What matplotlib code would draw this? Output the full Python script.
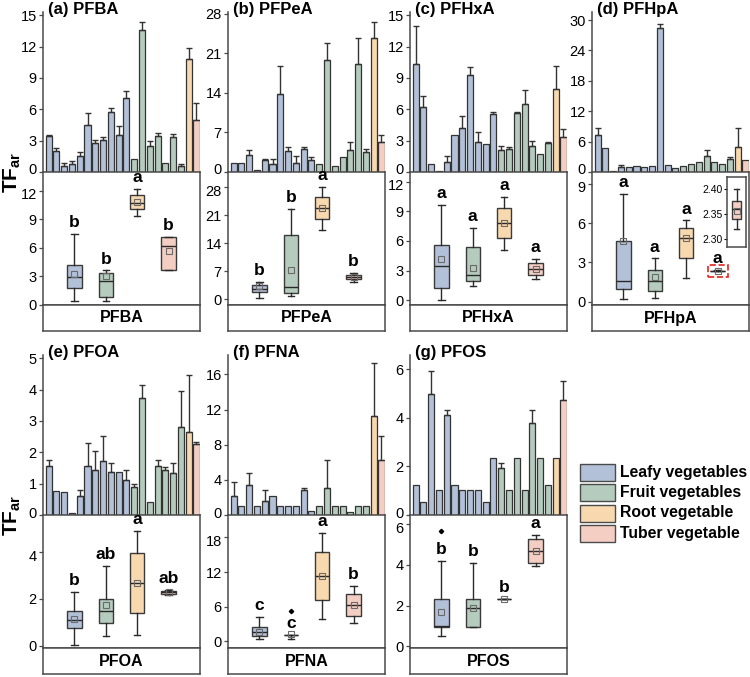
import matplotlib
matplotlib.use("Agg")
import matplotlib.pyplot as plt
import matplotlib.transforms as mtransforms
from matplotlib.patches import Rectangle

# ---- data -------------------------------------------------------------
PANELS = ["PFBA", "PFPeA", "PFHxA", "PFHpA", "PFOA", "PFNA", "PFOS"]
TAGS = ["(a)", "(b)", "(c)", "(d)", "(e)", "(f)", "(g)"]
GROUPS = ["Leafy vegetables", "Fruit vegetables", "Root vegetable", "Tuber vegetable"]
COLORS = ["#b3c1d8", "#b4cbbd", "#f8d8ae", "#f4cec3"]
# group of each of the 20 bars: 11 leafy, 7 fruit, 1 root, 1 tuber
BAR_GROUP = [0] * 11 + [1] * 7 + [2] + [3]

# bar heights (mean) and top of error bar (mean + sd)
BAR_VALS = [
    [3.4, 2.0, 0.57, 0.75, 1.5, 4.5, 2.8, 3.1, 5.75, 3.5, 7.1, 1.24, 13.56, 2.5, 3.4, 0.83, 3.3, 0.62, 10.8, 5.0],
    [1.66, 1.66, 3.1, 0.3, 2.07, 1.48, 13.9, 3.67, 1.6, 4.1, 2.2, 1.5, 19.9, 1.07, 2.66, 3.85, 19.2, 3.55, 23.8, 5.4],
    [10.3, 6.2, 0.75, 0.1, 0.95, 3.5, 4.2, 9.25, 2.9, 2.7, 5.5, 2.1, 2.2, 5.6, 6.5, 2.5, 1.7, 2.8, 7.9, 3.3],
    [7.35, 4.75, 0.2, 0.9, 1.0, 1.1, 1.0, 1.2, 28.5, 1.3, 0.8, 1.1, 1.5, 2.0, 3.2, 2.0, 1.5, 2.6, 5.0, 2.3],
    [1.57, 0.77, 0.74, 0.05, 0.61, 1.55, 1.42, 1.72, 1.37, 1.37, 1.13, 0.9, 3.72, 0.43, 1.55, 1.42, 1.35, 2.8, 2.65, 2.27],
    [2.2, 1.0, 3.4, 1.0, 1.6, 2.2, 1.0, 1.0, 1.0, 2.8, 0.4, 1.0, 3.1, 1.0, 1.0, 0.3, 1.0, 1.0, 11.3, 6.3],
    [1.24, 0.52, 4.97, 1.03, 4.11, 1.24, 1.03, 1.03, 1.03, 0.52, 2.36, 1.94, 1.03, 2.36, 1.03, 3.77, 2.36, 1.24, 2.36, 4.72],
]
BAR_TOPS = [
    [3.57, 2.3, 0.9, 1.05, 1.9, 5.65, 3.03, 3.35, 6.13, 4.4, 7.72, 1.24, 14.3, 2.94, 3.77, 0.83, 3.64, 0.75, 11.9, 6.6],
    [1.66, 1.66, 3.96, 0.3, 2.25, 2.37, 18.8, 4.44, 2.84, 4.44, 2.66, 1.5, 22.8, 1.07, 2.66, 5.4, 23.7, 4.14, 26.6, 6.5],
    [14.0, 7.3, 0.75, 0.1, 1.5, 3.5, 5.4, 10.0, 3.8, 2.7, 5.7, 2.5, 2.4, 5.7, 7.8, 3.0, 1.7, 2.9, 10.1, 4.1],
    [8.75, 4.75, 0.2, 1.3, 1.0, 1.1, 1.0, 1.2, 29.3, 1.3, 0.8, 1.1, 1.5, 2.0, 4.3, 2.0, 1.5, 3.0, 8.7, 2.3],
    [1.76, 0.77, 0.74, 0.05, 0.79, 2.28, 2.03, 2.53, 1.65, 1.37, 1.42, 0.98, 4.13, 0.43, 1.76, 1.53, 1.67, 3.95, 4.47, 2.33],
    [3.7, 1.0, 4.8, 1.0, 2.8, 2.2, 1.0, 1.0, 1.0, 3.1, 0.4, 1.0, 6.3, 1.0, 1.0, 0.3, 1.0, 1.0, 17.3, 9.0],
    [1.24, 0.52, 5.93, 1.03, 4.32, 1.24, 1.03, 1.03, 1.03, 0.52, 2.36, 2.15, 1.03, 2.36, 1.03, 4.32, 2.36, 1.24, 2.36, 5.52],
]
BAR_YMAX = [15.3, 28.35, 15.3, 31.6, 5.1, 18.2, 6.58]
BAR_TICKS = [[0, 3, 6, 9, 12, 15], [0, 7, 14, 21, 28], [0, 3, 6, 9, 12, 15],
             [0, 6, 12, 18, 24, 30], [0, 1, 2, 3, 4, 5], [0, 4, 8, 12, 16], [0, 2, 4, 6]]

# box plot statistics, order: leafy, fruit, root, tuber
BOX_WHISLO = [[0.4, 0.4, 9.4, 3.6], [0.25, 0.8, 17.3, 4.3], [0.0, 1.45, 5.1, 2.1], [0.2, 0.3, 1.8, 2.33],
              [0.03, 0.43, 0.45, 2.18], [0.3, 0.45, 3.9, 3.1], [0.49, 0.94, 2.33, 3.95]]
BOX_Q1 = [[1.7, 0.8, 10.1, 3.6], [1.7, 1.5, 20.0, 4.9], [1.2, 1.9, 6.3, 2.5], [0.95, 0.8, 3.3, 2.34],
          [0.77, 0.98, 1.4, 2.22], [0.9, 1.0, 7.1, 4.3], [0.96, 0.94, 2.33, 4.1]]
BOX_MED = [[2.9, 2.5, 10.75, 6.2], [2.4, 2.9, 22.75, 5.4], [3.5, 2.5, 7.8, 3.15], [1.6, 1.6, 4.9, 2.36],
           [1.1, 1.48, 2.68, 2.3], [1.6, 1.0, 11.3, 6.3], [0.98, 1.9, 2.33, 4.68]]
BOX_Q3 = [[4.2, 3.3, 11.6, 7.1], [3.4, 16.1, 25.5, 6.0], [5.6, 5.4, 9.35, 3.8], [4.6, 2.4, 5.6, 2.38],
          [1.48, 1.99, 3.97, 2.34], [2.4, 1.0, 15.5, 8.2], [2.33, 2.33, 2.33, 5.28]]
BOX_WHISHI = [[7.5, 3.6, 12.2, 7.1], [4.25, 22.5, 28.0, 6.6], [9.7, 7.35, 10.5, 4.15], [8.2, 3.3, 6.2, 2.39],
              [2.3, 3.43, 4.92, 2.4], [4.2, 1.0, 18.7, 9.65], [4.2, 4.1, 2.33, 5.45]]
BOX_MEAN = [[3.2, 3.05, 10.8, 5.7], [3.2, 7.3, 22.8, 5.5], [4.15, 3.3, 7.8, 3.15], [4.6, 1.9, 4.9, 2.355],
            [1.16, 1.76, 2.68, 2.3], [1.6, 1.26, 11.3, 6.3], [1.67, 1.9, 2.33, 4.68]]
BOX_FLIERS = [[[], [], [], []], [[], [], [], []], [[], [], [], []], [[], [], [], []],
              [[], [], [], []], [[], [5.3], [], []], [[5.64], [], [], []]]
LETTERS = [["b", "b", "a", "b"], ["b", "b", "a", "b"], ["a", "a", "a", "a"], ["a", "a", "a", "a"],
           ["b", "ab", "a", "ab"], ["c", "c", "a", "b"], ["b", "b", "b", "a"]]
BOX_YLIM = [(-0.05, 14.0), (-1.5, 31.8), (-0.5, 13.0), (-0.25, 9.9),
            (-0.1, 5.6), (-1.2, 21.9), (-0.08, 6.45)]
BOX_TICKS = [[0, 3, 6, 9, 12], [0, 7, 14, 21, 28], [0, 3, 6, 9, 12], [0, 3, 6, 9],
             [0, 2, 4], [0, 6, 12, 18], [0, 2, 4, 6]]

# zoomed PFHpA tuber box (inset)
INSET_STAT = dict(whislo=2.32, q1=2.34, med=2.36, q3=2.375, whishi=2.40, mean=2.355)
INSET_TICKS = [2.30, 2.35, 2.40]

# ---- layout (pixels) ----------------------------------------------------
W, H = 750, 677
PANEL_LEFT = [43, 228, 410, 592, 43, 228, 410]
PANEL_W = 157
ROW_TOP = [12, 12, 12, 12, 355, 355, 355]
BAR_H, BOX_H, STRIP_H = 160, 133, 26
EDGE = "#4a4a4a"

plt.rcParams.update({
    "font.family": ["Liberation Sans", "DejaVu Sans"],
    "mathtext.fontset": "custom",
    "mathtext.rm": "Liberation Sans",
    "mathtext.bf": "Liberation Sans:bold",
    "axes.linewidth": 1.1,
    "axes.edgecolor": EDGE,
})

fig = plt.figure(figsize=(W / 100, H / 100), dpi=100)


def px_axes(x0, y0, w, h):
    return fig.add_axes([x0 / W, 1 - (y0 + h) / H, w / W, h / H])


def style_y(ax):
    ax.tick_params(axis="y", direction="out", length=3, width=0.9, color=EDGE,
                   labelsize=10.5, pad=1.5)
    ax.tick_params(axis="x", bottom=False, labelbottom=False)


def nudge(label, dy_px):
    # shift a tick label a few pixels up (+) or down (-)
    off = mtransforms.ScaledTranslation(0, dy_px / 100, fig.dpi_scale_trans)
    label.set_transform(label.get_transform() + off)


box_props = dict(
    widths=0.46, patch_artist=True, showmeans=True, showfliers=True, capwidths=0.2,
    boxprops=dict(edgecolor="#3a3a3a", linewidth=1.0),
    medianprops=dict(color="#2a2a2a", linewidth=1.0),
    whiskerprops=dict(color="#2a2a2a", linewidth=1.0),
    capprops=dict(color="#2a2a2a", linewidth=1.0),
    meanprops=dict(marker="s", markersize=4, markerfacecolor="none",
                   markeredgecolor="#6a6a6a", markeredgewidth=0.8),
    flierprops=dict(marker="D", markersize=2.2, markerfacecolor="k", markeredgecolor="k"),
)

for i, name in enumerate(PANELS):
    x0, top = PANEL_LEFT[i], ROW_TOP[i]

    # --- bars ---
    ax = px_axes(x0, top, PANEL_W, BAR_H)
    xs = list(range(len(BAR_VALS[i])))
    ax.bar(xs, BAR_VALS[i], width=0.78, color=[COLORS[g] for g in BAR_GROUP],
           edgecolor="#333333", linewidth=0.9, zorder=2)
    ex = [x for x in xs if BAR_TOPS[i][x] > BAR_VALS[i][x] + 1e-9]
    ax.errorbar(ex, [BAR_VALS[i][x] for x in ex],
                yerr=[[0] * len(ex), [BAR_TOPS[i][x] - BAR_VALS[i][x] for x in ex]],
                fmt="none", ecolor="#333333", elinewidth=1.0, capsize=2.3, capthick=1.0, zorder=3)
    ax.set_xlim(-0.72, 19.45)
    ax.set_ylim(0, BAR_YMAX[i])
    ax.set_yticks(BAR_TICKS[i])
    for s in ("top", "right", "bottom"):
        ax.spines[s].set_visible(False)
    ax.patch.set_alpha(0)
    style_y(ax)
    nudge(ax.get_yticklabels()[0], 3)

    fig.text((x0 + 5) / W, 1 - (top - 10) / H, f"{TAGS[i]} {name}", fontsize=12,
             fontweight="bold", va="top", ha="left")

    # --- box plots ---
    bx = px_axes(x0, top + BAR_H, PANEL_W, BOX_H)
    stats = []
    for k in range(4):
        stats.append(dict(whislo=BOX_WHISLO[i][k], q1=BOX_Q1[i][k], med=BOX_MED[i][k],
                          q3=BOX_Q3[i][k], whishi=BOX_WHISHI[i][k], mean=BOX_MEAN[i][k],
                          fliers=BOX_FLIERS[i][k]))
    bp = bx.bxp(stats, positions=[1, 2, 3, 4], **box_props)
    for patch, c in zip(bp["boxes"], COLORS):
        patch.set_facecolor(c)
    for k in range(4):
        bx.annotate(LETTERS[i][k], (k + 1, BOX_WHISHI[i][k]), xytext=(0, 5),
                    textcoords="offset points", ha="center", va="baseline",
                    fontsize=12.5, fontweight="bold")
    bx.set_xlim(0, 5)
    bx.set_ylim(*BOX_YLIM[i])
    bx.set_yticks(BOX_TICKS[i])
    style_y(bx)
    nudge(bx.get_yticklabels()[-1], -3)

    if name == "PFHpA":
        bx.add_patch(Rectangle((3.68, 1.9), 0.64, 0.92, fill=False, edgecolor="#e8211d",
                               linestyle="--", linewidth=1.2, zorder=6))
        ins = px_axes(727, top + BAR_H + 5, 19, 70)
        ibp = ins.bxp([dict(INSET_STAT, fliers=[])], positions=[1],
                      **dict(box_props, widths=0.6, capwidths=0.3))
        ibp["boxes"][0].set_facecolor(COLORS[3])
        ins.set_xlim(0.4, 1.6)
        ins.set_ylim(2.283, 2.424)
        ins.set_yticks(INSET_TICKS)
        ins.set_yticklabels([f"{t:.2f}" for t in INSET_TICKS])
        ins.tick_params(axis="y", direction="out", length=2, width=0.8, labelsize=7.5, pad=1)
        ins.tick_params(axis="x", bottom=False, labelbottom=False)

    # --- strip label ---
    sx = px_axes(x0, top + BAR_H + BOX_H, PANEL_W, STRIP_H)
    sx.set_xticks([])
    sx.set_yticks([])
    sx.text(0.5, 0.5, name, ha="center", va="center", fontsize=11.5, fontweight="bold",
            transform=sx.transAxes)

# y labels
for yc in (172, 515):
    fig.text(12 / W, 1 - yc / H, r"$\mathbf{TF_{ar}}$", rotation=90, ha="center",
             va="center", fontsize=15)

# legend
for k, lab in enumerate(GROUPS):
    yc = 472 + 20.5 * k
    fig.patches.append(Rectangle((580 / W, 1 - (yc + 8.5) / H), 35 / W, 17 / H,
                                 transform=fig.transFigure, facecolor=COLORS[k],
                                 edgecolor="#4a4a4a", linewidth=1.0))
    fig.text(620 / W, 1 - yc / H, lab, ha="left", va="center", fontsize=11.3,
             fontweight="bold")

fig.savefig("out.png", dpi=100)
